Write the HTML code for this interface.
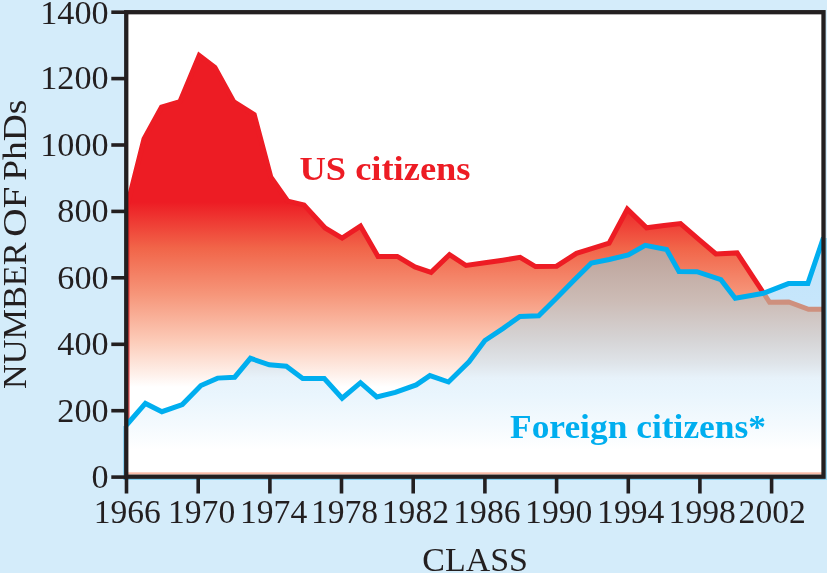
<!DOCTYPE html>
<html lang="en">
<head>
<meta charset="utf-8">
<title>Number of PhDs by class</title>
<style>
html,body{margin:0;padding:0;background:#d4ecfa;}
body{width:827px;height:573px;overflow:hidden;}
svg{display:block;will-change:transform;}
text{font-family:"Liberation Serif","DejaVu Serif",serif;fill:#231f20;}
.ax{font-size:33.5px;}
.lb{font-weight:bold;font-size:33.5px;}
</style>
</head>
<body>
<svg width="827" height="573" viewBox="0 0 827 573">
<defs>
<linearGradient id="gr" gradientUnits="userSpaceOnUse" x1="0" y1="202" x2="0" y2="387">
<stop offset="0" stop-color="#ed1c24"/>
<stop offset="0.25" stop-color="#f16549"/>
<stop offset="0.5" stop-color="#f6967a"/>
<stop offset="0.75" stop-color="#fccbb8"/>
<stop offset="0.93" stop-color="#fef0ea"/>
<stop offset="1" stop-color="#ffffff"/>
</linearGradient>
<linearGradient id="gb" gradientUnits="userSpaceOnUse" x1="0" y1="230" x2="0" y2="450">
<stop offset="0" stop-color="#c0e3fa"/>
<stop offset="0.318" stop-color="#c6e6fb"/>
<stop offset="0.727" stop-color="#e9f5fd"/>
<stop offset="0.886" stop-color="#f4fafe"/>
<stop offset="1" stop-color="#ffffff"/>
</linearGradient>
<linearGradient id="gg" gradientUnits="userSpaceOnUse" x1="0" y1="245" x2="0" y2="450">
<stop offset="0" stop-color="#bba097"/>
<stop offset="0.268" stop-color="#ccbbb5"/>
<stop offset="0.454" stop-color="#d5d3d4"/>
<stop offset="0.576" stop-color="#dfe4e9"/>
<stop offset="0.649" stop-color="#e7f2fa"/>
<stop offset="0.727" stop-color="#e9f5fd"/>
<stop offset="0.878" stop-color="#f4fafe"/>
<stop offset="1" stop-color="#ffffff"/>
</linearGradient>
<clipPath id="cr"><polygon points="126.5,208.5 144.0,139.0 161.5,107.0 179.9,101.6 199.2,55.4 214.9,67.4 233.6,101.5 254.2,114.6 270.9,177.3 287.8,201.1 304.0,204.9 325.1,228.0 342.1,238.1 360.5,226.1 378.0,256.4 397.3,256.4 414.9,266.9 431.1,272.4 449.5,254.6 466.0,265.5 484.9,262.7 502.8,260.2 520.1,257.4 535.5,266.6 556.6,266.2 576.5,253.3 592.4,248.4 609.1,243.2 627.3,209.1 646.6,227.8 664.1,225.4 680.5,223.5 699.9,240.3 715.9,254.0 737.1,252.9 753.7,278.1 769.6,302.3 788.7,302.0 808.5,309.3 823.5,309.3 823.5,476.7 126.5,476.7"/></clipPath>
<clipPath id="cb"><polygon points="126.5,425.0 145.4,403.4 161.9,411.7 182.3,404.6 200.9,385.5 217.6,378.1 234.7,377.2 250.4,358.3 269.3,364.8 286.3,366.3 302.7,378.5 324.3,378.5 342.1,398.2 360.5,382.7 376.8,397.0 395.3,392.4 416.2,384.9 429.9,375.6 448.5,382.0 469.0,361.8 484.9,340.5 502.8,328.6 519.9,316.4 538.7,315.7 556.6,297.9 574.5,279.7 591.4,263.0 609.3,259.5 628.3,254.9 645.2,245.4 666.6,249.6 679.0,271.6 696.9,271.7 720.9,279.7 735.2,298.3 752.5,295.3 763.3,293.3 788.5,283.6 807.9,283.4 823.5,237.6 823.5,476.7 126.5,476.7"/></clipPath>
<clipPath id="cp"><rect x="126.25" y="12.2" width="697.25" height="464.5"/></clipPath>
</defs>
<rect x="0" y="0" width="827" height="573" fill="#d4ecfa"/>
<rect x="126.25" y="12.2" width="697.25" height="464.5" fill="#ffffff"/>
<g clip-path="url(#cp)">
<polygon points="126.5,208.5 144.0,139.0 161.5,107.0 179.9,101.6 199.2,55.4 214.9,67.4 233.6,101.5 254.2,114.6 270.9,177.3 287.8,201.1 304.0,204.9 325.1,228.0 342.1,238.1 360.5,226.1 378.0,256.4 397.3,256.4 414.9,266.9 431.1,272.4 449.5,254.6 466.0,265.5 484.9,262.7 502.8,260.2 520.1,257.4 535.5,266.6 556.6,266.2 576.5,253.3 592.4,248.4 609.1,243.2 627.3,209.1 646.6,227.8 664.1,225.4 680.5,223.5 699.9,240.3 715.9,254.0 737.1,252.9 753.7,278.1 769.6,302.3 788.7,302.0 808.5,309.3 823.5,309.3 823.5,476.7 126.5,476.7" fill="url(#gr)"/>
<polyline points="126.5,208.5 144.0,139.0 161.5,107.0 179.9,101.6 199.2,55.4 214.9,67.4 233.6,101.5 254.2,114.6 270.9,177.3 287.8,201.1 304.0,204.9 325.1,228.0 342.1,238.1 360.5,226.1 378.0,256.4 397.3,256.4 414.9,266.9 431.1,272.4 449.5,254.6 466.0,265.5 484.9,262.7 502.8,260.2 520.1,257.4 535.5,266.6 556.6,266.2 576.5,253.3 592.4,248.4 609.1,243.2 627.3,209.1 646.6,227.8 664.1,225.4 680.5,223.5 699.9,240.3 715.9,254.0 737.1,252.9 753.7,278.1 769.6,302.3 788.7,302.0 808.5,309.3 823.5,309.3" fill="none" stroke="#ed1c24" stroke-width="5" stroke-linejoin="miter" stroke-miterlimit="6"/>
<rect x="128.2" y="200" width="1.3" height="220" fill="#ed1c24" opacity="0.9"/>
<rect x="128.4" y="426" width="1.1" height="48" fill="#fcd3c5"/>
<rect x="820.4" y="312" width="1.2" height="162" fill="#fcd3c5" opacity="0.8"/>
<polygon points="126.5,425.0 145.4,403.4 161.9,411.7 182.3,404.6 200.9,385.5 217.6,378.1 234.7,377.2 250.4,358.3 269.3,364.8 286.3,366.3 302.7,378.5 324.3,378.5 342.1,398.2 360.5,382.7 376.8,397.0 395.3,392.4 416.2,384.9 429.9,375.6 448.5,382.0 469.0,361.8 484.9,340.5 502.8,328.6 519.9,316.4 538.7,315.7 556.6,297.9 574.5,279.7 591.4,263.0 609.3,259.5 628.3,254.9 645.2,245.4 666.6,249.6 679.0,271.6 696.9,271.7 720.9,279.7 735.2,298.3 752.5,295.3 763.3,293.3 788.5,283.6 807.9,283.4 823.5,237.6 823.5,476.7 126.5,476.7" fill="url(#gb)"/>
<g clip-path="url(#cr)"><polygon points="126.5,425.0 145.4,403.4 161.9,411.7 182.3,404.6 200.9,385.5 217.6,378.1 234.7,377.2 250.4,358.3 269.3,364.8 286.3,366.3 302.7,378.5 324.3,378.5 342.1,398.2 360.5,382.7 376.8,397.0 395.3,392.4 416.2,384.9 429.9,375.6 448.5,382.0 469.0,361.8 484.9,340.5 502.8,328.6 519.9,316.4 538.7,315.7 556.6,297.9 574.5,279.7 591.4,263.0 609.3,259.5 628.3,254.9 645.2,245.4 666.6,249.6 679.0,271.6 696.9,271.7 720.9,279.7 735.2,298.3 752.5,295.3 763.3,293.3 788.5,283.6 807.9,283.4 823.5,237.6 823.5,476.7 126.5,476.7" fill="url(#gg)"/></g>
<g clip-path="url(#cb)"><polyline points="126.5,208.5 144.0,139.0 161.5,107.0 179.9,101.6 199.2,55.4 214.9,67.4 233.6,101.5 254.2,114.6 270.9,177.3 287.8,201.1 304.0,204.9 325.1,228.0 342.1,238.1 360.5,226.1 378.0,256.4 397.3,256.4 414.9,266.9 431.1,272.4 449.5,254.6 466.0,265.5 484.9,262.7 502.8,260.2 520.1,257.4 535.5,266.6 556.6,266.2 576.5,253.3 592.4,248.4 609.1,243.2 627.3,209.1 646.6,227.8 664.1,225.4 680.5,223.5 699.9,240.3 715.9,254.0 737.1,252.9 753.7,278.1 769.6,302.3 788.7,302.0 808.5,309.3 823.5,309.3" fill="none" stroke="#ce907e" stroke-width="5" stroke-linejoin="miter"/></g>
<rect x="126" y="472.3" width="698" height="2.2" fill="#fbbca8"/>
<polyline points="126.5,425.0 145.4,403.4 161.9,411.7 182.3,404.6 200.9,385.5 217.6,378.1 234.7,377.2 250.4,358.3 269.3,364.8 286.3,366.3 302.7,378.5 324.3,378.5 342.1,398.2 360.5,382.7 376.8,397.0 395.3,392.4 416.2,384.9 429.9,375.6 448.5,382.0 469.0,361.8 484.9,340.5 502.8,328.6 519.9,316.4 538.7,315.7 556.6,297.9 574.5,279.7 591.4,263.0 609.3,259.5 628.3,254.9 645.2,245.4 666.6,249.6 679.0,271.6 696.9,271.7 720.9,279.7 735.2,298.3 752.5,295.3 763.3,293.3 788.5,283.6 807.9,283.4 823.5,237.6" fill="none" stroke="#00aeef" stroke-width="5" stroke-linejoin="miter" stroke-miterlimit="6"/>
</g>
<rect x="123.5" y="426" width="1" height="54" fill="#27aae1" opacity="0.8"/>
<rect x="825.5" y="238" width="1" height="242" fill="#27aae1" opacity="0.7"/>
<rect x="124" y="478.6" width="701" height="1" fill="#27aae1" opacity="0.8"/>
<rect x="126.25" y="12.2" width="697.25" height="464.5" fill="none" stroke="#231f20" stroke-width="4.3"/>
<g class="ax">
<line x1="111.3" y1="477.1" x2="125" y2="477.1" stroke="#231f20" stroke-width="3.6"/>
<text x="108.6" y="487.9" text-anchor="end" textLength="17.1" lengthAdjust="spacingAndGlyphs">0</text>
<line x1="111.3" y1="410.7" x2="125" y2="410.7" stroke="#231f20" stroke-width="3.6"/>
<text x="108.6" y="421.5" text-anchor="end" textLength="51.3" lengthAdjust="spacingAndGlyphs">200</text>
<line x1="111.3" y1="344.3" x2="125" y2="344.3" stroke="#231f20" stroke-width="3.6"/>
<text x="108.6" y="355.1" text-anchor="end" textLength="51.3" lengthAdjust="spacingAndGlyphs">400</text>
<line x1="111.3" y1="277.8" x2="125" y2="277.8" stroke="#231f20" stroke-width="3.6"/>
<text x="108.6" y="288.6" text-anchor="end" textLength="51.3" lengthAdjust="spacingAndGlyphs">600</text>
<line x1="111.3" y1="211.4" x2="125" y2="211.4" stroke="#231f20" stroke-width="3.6"/>
<text x="108.6" y="222.2" text-anchor="end" textLength="51.3" lengthAdjust="spacingAndGlyphs">800</text>
<line x1="111.3" y1="145.0" x2="125" y2="145.0" stroke="#231f20" stroke-width="3.6"/>
<text x="108.6" y="155.8" text-anchor="end" textLength="68.4" lengthAdjust="spacingAndGlyphs">1000</text>
<line x1="111.3" y1="78.6" x2="125" y2="78.6" stroke="#231f20" stroke-width="3.6"/>
<text x="108.6" y="89.4" text-anchor="end" textLength="68.4" lengthAdjust="spacingAndGlyphs">1200</text>
<line x1="111.3" y1="12.2" x2="125" y2="12.2" stroke="#231f20" stroke-width="3.6"/>
<text x="108.6" y="24.0" text-anchor="end" textLength="68.4" lengthAdjust="spacingAndGlyphs">1400</text>
<line x1="126.5" y1="476" x2="126.5" y2="493.5" stroke="#231f20" stroke-width="3.6"/>
<text x="127.3" y="523" text-anchor="middle" textLength="67.2" lengthAdjust="spacingAndGlyphs">1966</text>
<line x1="198.2" y1="476" x2="198.2" y2="493.5" stroke="#231f20" stroke-width="3.6"/>
<text x="201.6" y="523" text-anchor="middle" textLength="67.2" lengthAdjust="spacingAndGlyphs">1970</text>
<line x1="269.9" y1="476" x2="269.9" y2="493.5" stroke="#231f20" stroke-width="3.6"/>
<text x="273.6" y="523" text-anchor="middle" textLength="67.2" lengthAdjust="spacingAndGlyphs">1974</text>
<line x1="341.5" y1="476" x2="341.5" y2="493.5" stroke="#231f20" stroke-width="3.6"/>
<text x="344.5" y="523" text-anchor="middle" textLength="67.2" lengthAdjust="spacingAndGlyphs">1978</text>
<line x1="413.2" y1="476" x2="413.2" y2="493.5" stroke="#231f20" stroke-width="3.6"/>
<text x="415.4" y="523" text-anchor="middle" textLength="67.2" lengthAdjust="spacingAndGlyphs">1982</text>
<line x1="484.9" y1="476" x2="484.9" y2="493.5" stroke="#231f20" stroke-width="3.6"/>
<text x="486.9" y="523" text-anchor="middle" textLength="67.2" lengthAdjust="spacingAndGlyphs">1986</text>
<line x1="556.6" y1="476" x2="556.6" y2="493.5" stroke="#231f20" stroke-width="3.6"/>
<text x="558.7" y="523" text-anchor="middle" textLength="67.2" lengthAdjust="spacingAndGlyphs">1990</text>
<line x1="628.3" y1="476" x2="628.3" y2="493.5" stroke="#231f20" stroke-width="3.6"/>
<text x="630.7" y="523" text-anchor="middle" textLength="67.2" lengthAdjust="spacingAndGlyphs">1994</text>
<line x1="699.9" y1="476" x2="699.9" y2="493.5" stroke="#231f20" stroke-width="3.6"/>
<text x="702.2" y="523" text-anchor="middle" textLength="67.2" lengthAdjust="spacingAndGlyphs">1998</text>
<line x1="771.6" y1="476" x2="771.6" y2="493.5" stroke="#231f20" stroke-width="3.6"/>
<text x="772.2" y="523" text-anchor="middle" textLength="67.2" lengthAdjust="spacingAndGlyphs">2002</text>

<text x="422.3" y="570.8" textLength="105.7" lengthAdjust="spacingAndGlyphs">CLASS</text>
<g transform="translate(26.2 0) rotate(-90)" style="font-size:34px">
<text x="-389.1" y="0" textLength="146.8" lengthAdjust="spacingAndGlyphs">NUMBER</text>
<text x="-236.8" y="0" textLength="50.1" lengthAdjust="spacingAndGlyphs">OF</text>
<text x="-180.7" y="0" textLength="81.1" lengthAdjust="spacingAndGlyphs">PhDs</text>
</g>
</g>
<g class="lb">
<text x="299.5" y="179.8" textLength="171" lengthAdjust="spacingAndGlyphs" style="fill:#ed1c24">US citizens</text>
<text x="510" y="438" textLength="256" lengthAdjust="spacingAndGlyphs" style="fill:#00aeef">Foreign citizens*</text>
</g>
</svg>
</body>
</html>
